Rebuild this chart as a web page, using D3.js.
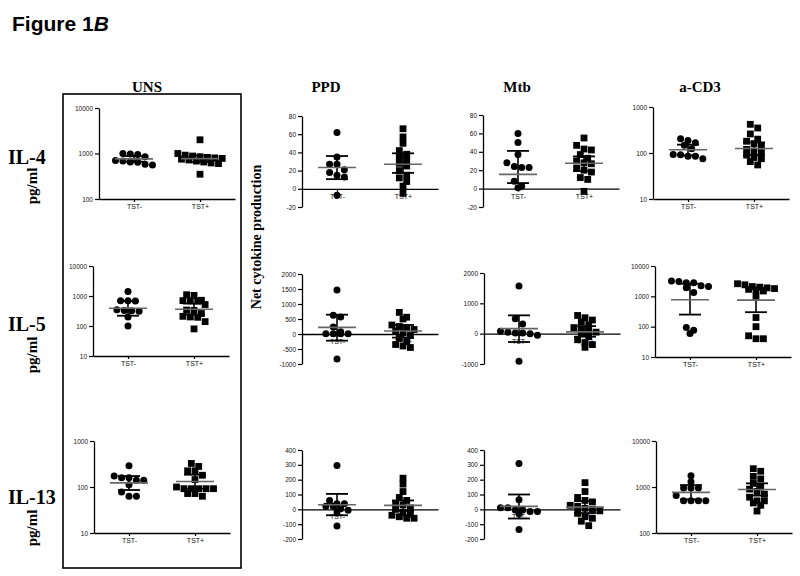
<!DOCTYPE html>
<html><head><meta charset="utf-8">
<script src="https://cdn.jsdelivr.net/npm/d3@7"></script>
<style>body{margin:0;background:#fff} svg{display:block}</style>
</head><body>
<svg id="chart" width="800" height="576"></svg>
<script>
// ---------- categories / labels ----------
const stimuli = ["UNS", "PPD", "Mtb", "a-CD3"];
const cytokines = ["IL-4", "IL-5", "IL-13"];
const groups = ["TST-", "TST+"];

// ---------- tick labels ----------
const ticksLog100to10000 = [100, 1000, 10000];
const ticksLog10to10000 = [10, 100, 1000, 10000];
const ticksLog10to1000 = [10, 100, 1000];
const ticksIL4net = [-20, 0, 20, 40, 60, 80];
const ticksPPDIL5net = [-1000, -500, 0, 500, 1000, 1500, 2000];
const ticksMtbIL5net = [-1000, 0, 1000, 2000];
const ticksIL13net = [-200, -100, 0, 100, 200, 300, 400];

// ---------- series values (pg/ml) ; bars = [centre, lower, upper] for TST-, TST+ ----------
const UNS_IL4_neg = [1000, 980, 950, 850, 700, 680, 650, 640, 580, 560];
const UNS_IL4_pos = [2000, 1000, 920, 880, 850, 820, 800, 780, 750, 720, 680, 650, 620, 600, 350];
const UNS_IL4_bars = [[760, 660, 880], [770, 650, 900]];

const UNS_IL5_neg = [1400, 700, 700, 680, 350, 330, 320, 310, 200, 100];
const UNS_IL5_pos = [1100, 1050, 720, 700, 690, 680, 520, 340, 330, 260, 210, 200, 195, 140, 80];
const UNS_IL5_bars = [[390, 220, 680], [360, 240, 560]];

const UNS_IL13_neg = [288, 173, 158, 158, 140, 140, 112, 78, 63, 63];
const UNS_IL13_pos = [325, 280, 225, 225, 180, 145, 100, 92, 92, 92, 92, 92, 72, 72, 63];
const UNS_IL13_bars = [[123, 86, 173], [132, 92, 185]];

const PPD_IL4_neg = [62, 35, 27, 27, 21, 18, 15, 13, -7];
const PPD_IL4_pos = [66, 57, 50, 42, 38, 35, 32, 28, 25, 20, 15, 12, 8, 3, -5];
const PPD_IL4_bars = [[23.4, 10.6, 36], [27, 17.5, 39]];

const PPD_IL5_neg = [1467, 622, 567, 233, 78, 10, 10, 10, 10, -833];
const PPD_IL5_pos = [720, 560, 500, 300, 250, 200, 150, 100, 33, -50, -150, -250, -350, -400, -450];
const PPD_IL5_bars = [[222, -222, 644], [100, -120, 300]];

const PPD_IL13_neg = [295, 60, 38, 38, 20, 20, 4, -7, -18, -113];
const PPD_IL13_pos = [210, 170, 120, 80, 60, 40, 30, 10, 0, -20, -33, -40, -50, -60, -60];
const PPD_IL13_bars = [[31, -40, 104], [27, -10, 60]];

const Mtb_IL4_neg = [60, 50, 37, 28, 24, 23, 23, 8, 2.5, 1];
const Mtb_IL4_pos = [55, 47, 43, 42, 37, 33, 30, 28, 27, 22, 20, 18, 12, 10, -3];
const Mtb_IL4_bars = [[15.5, 6, 41], [27.5, 19, 35]];

const Mtb_IL5_neg = [1571, 495, 319, 77, 44, 22, 22, 0, -50, -912];
const Mtb_IL5_pos = [600, 525, 450, 390, 300, 200, 150, 100, 50, 0, -100, -200, -300, -360, -450];
const Mtb_IL5_bars = [[165, -275, 604], [60, -100, 250]];

const Mtb_IL13_neg = [309, 64, 11, 11, -5, -5, -15, -15, -30, -136];
const Mtb_IL13_pos = [180, 120, 80, 60, 50, 27, 20, 7, 0, -10, -27, -50, -60, -80, -110];
const Mtb_IL13_bars = [[20, -62, 100], [15, -25, 55]];

const CD3_IL4_neg = [205, 188, 168, 147, 124, 93, 92, 85, 85, 75];
const CD3_IL4_pos = [420, 350, 260, 200, 180, 160, 140, 120, 110, 100, 90, 80, 75, 65, 55];
const CD3_IL4_bars = [[118, 89, 152], [125, 90, 170]];

const CD3_IL5_neg = [3200, 3100, 2800, 2800, 2250, 2100, 1930, 1350, 93, 76, 59];
const CD3_IL5_pos = [2600, 2400, 2100, 2000, 1900, 1800, 1700, 1600, 1500, 1000, 200, 100, 50, 40, 40];
const CD3_IL5_bars = [[775, 250, 2600], [750, 300, 1900]];

const CD3_IL13_neg = [1760, 1300, 950, 950, 950, 650, 500, 500, 500, 500];
const CD3_IL13_pos = [2500, 2200, 1700, 1500, 1200, 1000, 900, 800, 700, 600, 500, 500, 450, 400, 300];
const CD3_IL13_bars = [[765, 540, 1100], [880, 650, 1200]];

// ---------- panel layout (positions only) ----------
const xDomain = [0.47, 2.53];
const panelW = 136;
const panels = [
  {type:"log", dom:[100,10000], ticks:ticksLog100to10000, ax:99,  top:108, bot:199, neg:UNS_IL4_neg, pos:UNS_IL4_pos, bars:UNS_IL4_bars},
  {type:"log", dom:[10,10000],  ticks:ticksLog10to10000,  ax:93,  top:266, bot:356, neg:UNS_IL5_neg, pos:UNS_IL5_pos, bars:UNS_IL5_bars},
  {type:"log", dom:[10,1000],   ticks:ticksLog10to1000,   ax:94,  top:441, bot:533, neg:UNS_IL13_neg, pos:UNS_IL13_pos, bars:UNS_IL13_bars},
  {type:"lin", dom:[-20,80],    ticks:ticksIL4net,        ax:302, top:116, bot:207, neg:PPD_IL4_neg, pos:PPD_IL4_pos, bars:PPD_IL4_bars},
  {type:"lin", dom:[-1000,2000],ticks:ticksPPDIL5net,     ax:302, top:274, bot:364, neg:PPD_IL5_neg, pos:PPD_IL5_pos, bars:PPD_IL5_bars},
  {type:"lin", dom:[-200,400],  ticks:ticksIL13net,       ax:302, top:450, bot:539, neg:PPD_IL13_neg, pos:PPD_IL13_pos, bars:PPD_IL13_bars},
  {type:"lin", dom:[-20,80],    ticks:ticksIL4net,        ax:483, top:115, bot:207, neg:Mtb_IL4_neg, pos:Mtb_IL4_pos, bars:Mtb_IL4_bars},
  {type:"lin", dom:[-1000,2000],ticks:ticksMtbIL5net,     ax:484, top:273, bot:364, neg:Mtb_IL5_neg, pos:Mtb_IL5_pos, bars:Mtb_IL5_bars},
  {type:"lin", dom:[-200,400],  ticks:ticksIL13net,       ax:484, top:450, bot:539, neg:Mtb_IL13_neg, pos:Mtb_IL13_pos, bars:Mtb_IL13_bars},
  {type:"log", dom:[10,1000],   ticks:ticksLog10to1000,   ax:653, top:107, bot:199, neg:CD3_IL4_neg, pos:CD3_IL4_pos, bars:CD3_IL4_bars},
  {type:"log", dom:[10,10000],  ticks:ticksLog10to10000,  ax:655, top:266, bot:357, neg:CD3_IL5_neg, pos:CD3_IL5_pos, bars:CD3_IL5_bars},
  {type:"log", dom:[100,10000], ticks:ticksLog100to10000, ax:656, top:441, bot:533, neg:CD3_IL13_neg, pos:CD3_IL13_pos, bars:CD3_IL13_bars}
];

const svg = d3.select("#chart");
const serif = "'Liberation Serif','Times New Roman',serif";
const sans = "'Liberation Sans',Arial,sans-serif";

// title
const title = svg.append("text").attr("x", 12).attr("y", 31)
  .attr("font-family", sans).attr("font-weight", "bold").attr("font-size", 21);
title.append("tspan").text("Figure 1");
title.append("tspan").attr("font-style", "italic").text("B");

// column headers
const headerX = [147, 326, 517, 700];
stimuli.forEach((s, i) => svg.append("text").attr("x", headerX[i]).attr("y", 92)
  .attr("text-anchor", "middle").attr("font-family", serif).attr("font-weight", "bold")
  .attr("font-size", 15).text(s));

// row labels
const rowY = [164, 331, 504];
const unitY = [186, 355, 528];
cytokines.forEach((c, i) => {
  svg.append("text").attr("x", 8).attr("y", rowY[i]).attr("font-family", serif)
    .attr("font-weight", "bold").attr("font-size", 20).text(c);
  svg.append("text").attr("transform", `translate(37,${unitY[i]}) rotate(-90)`)
    .attr("text-anchor", "middle").attr("font-family", serif).attr("font-weight", "bold")
    .attr("font-size", 15).text("pg/ml");
});

svg.append("text").attr("transform", "translate(261,237) rotate(-90)")
  .attr("text-anchor", "middle").attr("font-family", serif).attr("font-weight", "bold")
  .attr("font-size", 14).text("Net cytokine production");

// UNS box
svg.append("rect").attr("x", 63).attr("y", 94).attr("width", 178).attr("height", 474)
  .attr("fill", "none").attr("stroke", "#000").attr("stroke-width", 1.6);

function swarm(vals, y, cx, d) {
  const pts = vals.map(v => ({v, py: y(v)})).sort((a, b) => a.py - b.py);
  const out = []; let grp = [];
  const flush = () => { const k = grp.length; grp.forEach((q, i) => out.push({px: cx + (i - (k - 1) / 2) * d, py: q.py})); grp = []; };
  pts.forEach(q => { if (grp.length && q.py - grp[0].py > d * 0.75) flush(); grp.push(q); });
  flush();
  return out;
}

panels.forEach(p => {
  const g = svg.append("g");
  const y = (p.type === "log" ? d3.scaleLog() : d3.scaleLinear()).domain(p.dom).range([p.bot, p.top]);
  const x = d3.scaleLinear().domain(xDomain).range([p.ax, p.ax + panelW]);
  const baseY = p.type === "log" ? p.bot : y(0);

  const yAx = g.append("g").attr("transform", `translate(${p.ax},0)`)
    .call(d3.axisLeft(y).tickValues(p.ticks).tickFormat(d => String(d)).tickSizeInner(4).tickSizeOuter(0).tickPadding(2));
  yAx.select(".domain").attr("stroke", "#000").attr("stroke-width", 1.3);
  yAx.selectAll(".tick line").attr("stroke", "#000").attr("stroke-width", 1.2);
  yAx.selectAll("text").attr("font-family", sans).attr("font-size", 6.5).attr("fill", "#111");

  const xAx = g.append("g").attr("transform", `translate(0,${baseY})`)
    .call(d3.axisBottom(x).tickValues([1, 2]).tickFormat((d, i) => groups[i]).tickSizeInner(3).tickSizeOuter(0).tickPadding(2));
  xAx.select(".domain").attr("stroke", "#000").attr("stroke-width", 1.3);
  xAx.selectAll(".tick line").attr("stroke", "#000").attr("stroke-width", 1.2);
  xAx.selectAll("text").attr("font-family", sans).attr("font-size", 7).attr("fill", "#111");

  // points
  swarm(p.neg, y, x(1), 7.4).forEach(q => g.append("circle").attr("cx", q.px).attr("cy", q.py).attr("r", 3.5).attr("fill", "#000"));
  swarm(p.pos, y, x(2), 7.4).forEach(q => g.append("rect").attr("x", q.px - 3.4).attr("y", q.py - 3.4).attr("width", 6.8).attr("height", 6.8).attr("fill", "#000"));

  // centre line and error bars
  p.bars.forEach((b, i) => {
    const c = x(i + 1);
    g.append("line").attr("x1", c).attr("x2", c).attr("y1", y(b[1])).attr("y2", y(b[2])).attr("stroke", "#000").attr("stroke-width", 1.6);
    [b[1], b[2]].forEach(v => g.append("line").attr("x1", c - 11).attr("x2", c + 11).attr("y1", y(v)).attr("y2", y(v)).attr("stroke", "#000").attr("stroke-width", 1.8));
    g.append("line").attr("x1", c - 19).attr("x2", c + 19).attr("y1", y(b[0])).attr("y2", y(b[0])).attr("stroke", "#666").attr("stroke-width", 1.6);
  });
});
</script>
</body></html>
